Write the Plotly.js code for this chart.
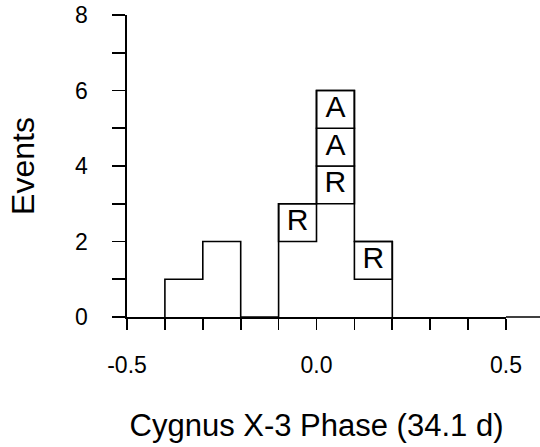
<!DOCTYPE html>
<html>
<head>
<meta charset="utf-8">
<script src="https://cdn.plot.ly/plotly-3.0.1.min.js"></script>
<style>
  html, body { margin: 0; padding: 0; background: #fff; }
  #chart { width: 540px; height: 447px; }
</style>
</head>
<body>
<div id="chart"></div>
<script>
// ---- data ----
const binCenters = [-0.35, -0.25, -0.15, -0.05, 0.05, 0.15];
const binWidth = 0.1;
const plainCounts = [1, 2, 0, 2, 3, 1];
const taggedEvents = [[], [], [], ['R'], ['R', 'A', 'A'], ['R']];

const xTickVals = [-0.5, -0.4, -0.3, -0.2, -0.1, 0, 0.1, 0.2, 0.3, 0.4, 0.5];
const xTickText = ['-0.5', '', '', '', '', '0.0', '', '', '', '', '0.5'];
const yTickVals = [0, 1, 2, 3, 4, 5, 6, 7, 8];
const yTickText = ['0', '', '2', '', '4', '', '6', '', '8'];

// ---- derived ----
const totals = plainCounts.map((c, i) => c + taggedEvents[i].length);
const edges = binCenters.map(c => c - binWidth / 2).concat([binCenters[binCenters.length - 1] + binWidth / 2]);
const stepX = [edges[0]].concat(edges.slice(0, binCenters.length), [edges[edges.length - 1]]);
const stepY = [0].concat(totals, [0]);

const boxX = [], boxBase = [], boxMid = [], boxLabel = [], boxOne = [];
binCenters.forEach((c, i) => {
  taggedEvents[i].forEach((lab, k) => {
    boxX.push(c);
    boxBase.push(plainCounts[i] + k);
    boxMid.push(plainCounts[i] + k + 0.5);
    boxLabel.push(lab);
    boxOne.push(1);
  });
});

const FONT = 'Liberation Sans, Arial, Helvetica, sans-serif';
const LW = 1.6;

const traces = [
  {
    type: 'bar',
    x: boxX, y: boxOne, base: boxBase,
    width: binWidth,
    marker: { color: '#fff', line: { color: '#000', width: LW } },
    hoverinfo: 'skip', showlegend: false
  },
  {
    type: 'scatter', mode: 'lines',
    x: stepX, y: stepY,
    line: { color: '#000', width: LW, shape: 'hv' },
    cliponaxis: false,
    hoverinfo: 'skip', showlegend: false
  },
  {
    type: 'scatter', mode: 'text',
    x: boxX, y: boxMid, text: boxLabel,
    textposition: 'middle center',
    textfont: { family: FONT, size: 30, color: '#000' },
    hoverinfo: 'skip', showlegend: false
  }
];

const layout = {
  width: 540, height: 447,
  margin: { l: 127, r: 34, t: 15, b: 130 },
  paper_bgcolor: '#fff', plot_bgcolor: '#fff',
  font: { family: FONT, color: '#000' },
  bargap: 0,
  xaxis: {
    range: [-0.5, 0.5],
    tickmode: 'array', tickvals: xTickVals, ticktext: xTickText,
    ticks: 'outside', ticklen: 11, tickwidth: LW, tickcolor: '#000',
    tickfont: { family: FONT, size: 23, color: '#000' },
    ticklabelstandoff: 16,
    showline: true, linecolor: '#000', linewidth: LW,
    showgrid: false, zeroline: false,
    title: { text: 'Cygnus X-3 Phase (34.1 d)', font: { family: FONT, size: 31, color: '#000' }, standoff: 37 }
  },
  yaxis: {
    range: [0, 8],
    tickmode: 'array', tickvals: yTickVals, ticktext: yTickText,
    ticks: 'outside', ticklen: 13, tickwidth: LW, tickcolor: '#000',
    tickfont: { family: FONT, size: 23, color: '#000' },
    ticklabelstandoff: 20,
    showline: true, linecolor: '#000', linewidth: LW,
    showgrid: false, zeroline: false,
    title: { text: 'Events', font: { family: FONT, size: 32, color: '#000' }, standoff: 31 }
  },
  shapes: [
    { type: 'line', xref: 'paper', yref: 'paper', x0: 1, x1: 1.1, y0: 0, y1: 0,
      line: { color: '#000', width: LW } }
  ]
};

Plotly.newPlot('chart', traces, layout, { displayModeBar: false, staticPlot: true });
</script>
</body>
</html>
